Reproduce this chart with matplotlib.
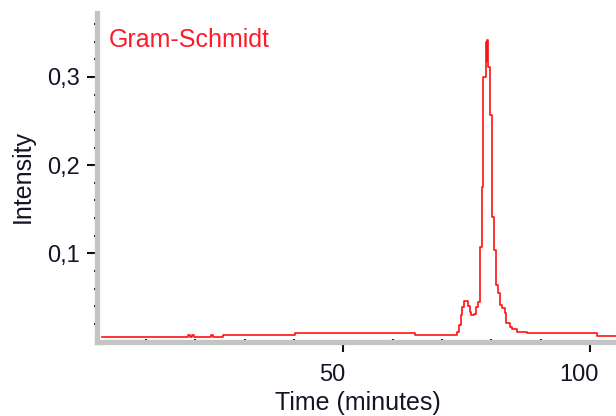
import matplotlib.pyplot as plt
from matplotlib.transforms import ScaledTranslation

tempo = [1.0, 18.6, 19.0, 19.4, 19.8, 23.2, 23.6, 25.7, 26.7, 40.2, 64.5,
         73.1, 73.5, 73.8, 74.1, 74.5, 75.2, 75.7, 76.0, 76.6, 76.9, 77.3,
         77.7, 78.1, 78.4, 78.9, 79.05, 79.15, 79.25, 79.4, 79.7, 80.1, 80.6,
         80.9, 81.4, 81.8, 82.2, 82.8, 83.1, 83.8, 84.3, 85.2, 87.3, 101.4, 106.0]
intensidade = [0.0055, 0.0072, 0.0055, 0.0072, 0.0055, 0.0072, 0.0055, 0.0072, 0.0075, 0.0100, 0.0075,
               0.011, 0.019, 0.030, 0.0395, 0.046, 0.040, 0.034, 0.030, 0.031, 0.0395, 0.045,
               0.1075, 0.175, 0.300, 0.340, 0.318, 0.342, 0.325, 0.311, 0.2566, 0.141, 0.1037,
               0.064, 0.0547, 0.041, 0.0377, 0.032, 0.0207, 0.0169, 0.0139, 0.0112, 0.0094, 0.0067, 0.0067]

x_ticks = [50, 100]
x_minor = [10, 20, 30, 40, 60, 70, 80, 90]
y_ticks = [0.1, 0.2, 0.3]
y_labels = ['0,1', '0,2', '0,3']
y_minor = [0.02, 0.04, 0.06, 0.08, 0.12, 0.14, 0.16, 0.18,
           0.22, 0.24, 0.26, 0.28, 0.32, 0.34, 0.36]

plt.rcParams['font.family'] = ['Liberation Sans', 'DejaVu Sans']
cor_texto = '#141428'
cor_eixo = '#c4c4c4'

fig = plt.figure(figsize=(6.16, 4.16), dpi=100)
ax = fig.add_axes([0.1568, 0.1788, 0.8432, 0.789])

ax.plot(tempo, intensidade, drawstyle='steps-post', color='#ff1010', linewidth=1.2)

ax.set_xlim(0, 105.3)
ax.set_ylim(0, 0.372)

# Eixos no estilo do software (linha cinza grossa)
for lado in ['top', 'right']:
    ax.spines[lado].set_visible(False)
for lado in ['left', 'bottom']:
    ax.spines[lado].set_color(cor_eixo)
    ax.spines[lado].set_linewidth(3.8)

ax.set_xticks(x_ticks)
ax.set_xticks(x_minor, minor=True)
ax.set_yticks(y_ticks)
ax.set_yticklabels(y_labels)
ax.set_yticks(y_minor, minor=True)

ax.tick_params(axis='both', which='major', colors='#101010', labelcolor=cor_texto,
               labelsize=17, width=1.5, length=7, direction='out')
ax.tick_params(axis='x', which='major', pad=9)
ax.tick_params(axis='y', which='major', pad=5)
ax.tick_params(axis='both', which='minor', colors='#101010', width=1.5, length=4,
               direction='inout')

# rótulos do eixo x levemente deslocados para a esquerda
for rotulo in ax.get_xticklabels():
    rotulo.set_transform(rotulo.get_transform() + ScaledTranslation(-0.11, 0, fig.dpi_scale_trans))

ax.text(0.0225, 0.897, 'Gram-Schmidt', transform=ax.transAxes, color='#ff1a2a',
        fontsize=18, ha='left', va='baseline')

fig.text(0.581, 0.031, 'Time (minutes)', fontsize=18, color=cor_texto, ha='center', va='center')
fig.text(0.0365, 0.5757, 'Intensity', fontsize=18, color=cor_texto, rotation=90,
         ha='center', va='center')

plt.savefig('out.png', dpi=100)
